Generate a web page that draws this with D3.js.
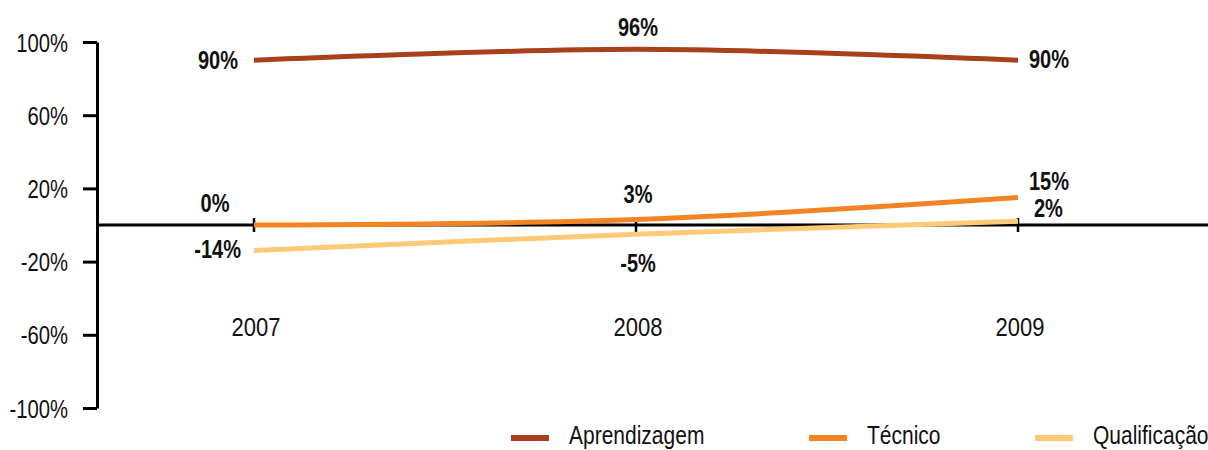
<!DOCTYPE html>
<html>
<head>
<meta charset="utf-8">
<script src="https://cdn.jsdelivr.net/npm/d3@7"></script>
<style>
  body { margin: 0; background: #fff; }
  svg { display: block; font-family: "Liberation Sans", Arial, sans-serif; }
</style>
</head>
<body>
<div id="chart"></div>
<script>
const years = ['2007', '2008', '2009'];
const seriesNames = ['Aprendizagem', 'Técnico', 'Qualificação'];
const aprendizagem = [90, 96, 90];
const tecnico = [0, 3, 15];
const qualificacao = [-14, -5, 2];
const yTicks = [-100, -60, -20, 20, 60, 100];

const colors = ['#a8411b', '#f28424', '#fdca78'];

// label placement for each point: [anchor, dx, dy]
const labelPos = [
  [['end', -16, 9], ['middle', 2, -13], ['start', 11, 8]],
  [['middle', -39, -13], ['middle', 2, -17], ['start', 11, -8]],
  [['end', -13, 7], ['middle', 2, 38], ['start', 16, -4]]
];

const W = 1208, H = 450;
const SX = 0.81; // condensed look
const svg = d3.select('#chart').append('svg').attr('width', W).attr('height', H);

// narrow text helper
function narrow(sel, px, py, sx = SX) {
  sel.attr('transform', (d, i) => `translate(${px(d, i)},${py(d, i)}) scale(${sx},1)`);
}

const x = d3.scalePoint().domain(years).range([254, 1018]);
const y = d3.scaleLinear().domain([-100, 100]).range([408, 42]);

// y axis
const yAxis = svg.append('g').attr('transform', 'translate(97,0)')
  .call(d3.axisLeft(y).tickValues(yTicks).tickSize(14).tickSizeOuter(0)
    .tickFormat(d => d + '%'));
yAxis.select('.domain').attr('stroke', '#000').attr('stroke-width', 3);
yAxis.selectAll('.tick line').attr('stroke', '#000').attr('stroke-width', 3);
yAxis.selectAll('.tick text')
  .attr('x', null).attr('dy', '0.36em')
  .attr('font-size', 25).attr('fill', '#111')
  .attr('font-family', '"Liberation Sans", Arial, sans-serif')
  .attr('transform', `translate(-29,0) scale(${SX},1)`);

// zero line with year ticks
svg.append('line').attr('x1', 97).attr('x2', W).attr('y1', y(0)).attr('y2', y(0))
  .attr('stroke', '#000').attr('stroke-width', 3);
svg.append('g').selectAll('line').data(years).join('line')
  .attr('x1', d => x(d)).attr('x2', d => x(d))
  .attr('y1', y(0) - 7).attr('y2', y(0) + 7)
  .attr('stroke', '#000').attr('stroke-width', 2.5);
svg.append('g').selectAll('text').data(years).join('text')
  .attr('text-anchor', 'middle').attr('font-size', 25).attr('fill', '#111')
  .text(d => d)
  .call(narrow, d => x(d) + 2, () => 336, 0.88);

const data = [aprendizagem, tecnico, qualificacao];
const line = d3.line()
  .x((d, i) => x(years[i]))
  .y(d => y(d))
  .curve(d3.curveCatmullRom.alpha(0.5));

const order = [2, 1, 0];
svg.append('g').selectAll('path').data(order).join('path')
  .attr('d', k => line(data[k]))
  .attr('fill', 'none')
  .attr('stroke', k => colors[k])
  .attr('stroke-width', 5);

// value labels
data.forEach((vals, k) => {
  svg.append('g').selectAll('text').data(vals).join('text')
    .attr('text-anchor', (d, i) => labelPos[k][i][0])
    .attr('font-size', 25).attr('font-weight', 'bold').attr('fill', '#111')
    .text(d => d + '%')
    .call(narrow, (d, i) => x(years[i]) + labelPos[k][i][1], (d, i) => y(d) + labelPos[k][i][2], 0.8);
});

// legend
const legendX = [511, 809, 1035];
const legend = svg.append('g').selectAll('g').data(seriesNames).join('g')
  .attr('transform', (d, i) => `translate(${legendX[i]},438)`);
legend.append('line').attr('x1', 0).attr('x2', 38).attr('y1', 0).attr('y2', 0)
  .attr('stroke', (d, i) => colors[i]).attr('stroke-width', 6);
legend.append('text')
  .attr('font-size', 25).attr('fill', '#111').text(d => d)
  .call(narrow, () => 58, () => 6, 0.84);
</script>
</body>
</html>
